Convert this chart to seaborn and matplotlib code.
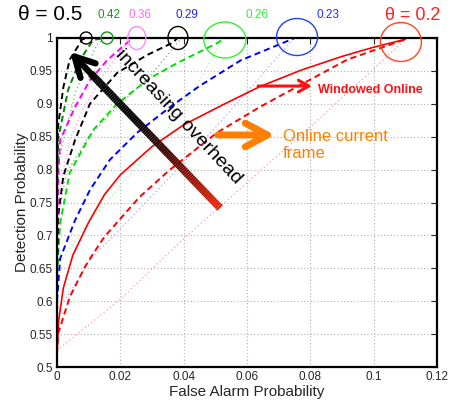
import numpy as np
import pandas as pd
import matplotlib
matplotlib.use("Agg")
import matplotlib.pyplot as plt
import seaborn as sns
from matplotlib.collections import LineCollection
from matplotlib.colors import LinearSegmentedColormap
from matplotlib.patches import Ellipse

sns.set_style("white")
plt.rcParams['font.family'] = ['Liberation Sans', 'DejaVu Sans']

# ---- ROC curves, one family per threshold theta ----
# theta = 0.2
red_solid_x = [0, 0.0005, 0.002, 0.005, 0.01, 0.015, 0.02, 0.03, 0.04, 0.053, 0.064, 0.077, 0.09, 0.1, 0.11]
red_solid_y = [0.52, 0.57, 0.62, 0.67, 0.72, 0.762, 0.792, 0.835, 0.868, 0.90, 0.926, 0.951, 0.972, 0.986, 0.998]
red_dash_x = [0, 0.0003, 0.004, 0.0088, 0.0114, 0.015, 0.026, 0.0357, 0.0505, 0.064, 0.077, 0.0916, 0.11]
red_dash_y = [0.52, 0.55, 0.606, 0.652, 0.672, 0.698, 0.758, 0.80, 0.856, 0.895, 0.929, 0.967, 0.998]
red_dot_x = [0, 0.02, 0.04, 0.06, 0.08, 0.1, 0.11]
red_dot_y = [0.525, 0.603, 0.695, 0.78, 0.865, 0.953, 0.998]
# theta = 0.23
blue_dash_x = [0, 0.001, 0.0057, 0.0104, 0.0167, 0.0253, 0.0357, 0.045, 0.058, 0.0736, 0.075]
blue_dash_y = [0.6, 0.665, 0.723, 0.769, 0.815, 0.856, 0.895, 0.927, 0.966, 0.997, 1.0]
blue_dot_x = [0.0005, 0.004, 0.0104, 0.023, 0.038, 0.053, 0.064, 0.0745]
blue_dot_y = [0.59, 0.612, 0.663, 0.725, 0.80, 0.88, 0.94, 0.998]
# theta = 0.26
green_dash_x = [0, 0.001, 0.004, 0.0114, 0.019, 0.029, 0.038, 0.0505, 0.053]
green_dash_y = [0.64, 0.719, 0.795, 0.86, 0.90, 0.938, 0.962, 0.992, 1.0]
green_dot_x = [0.001, 0.01, 0.02, 0.0325, 0.045, 0.052]
green_dot_y = [0.66, 0.72, 0.775, 0.845, 0.935, 0.997]
# theta = 0.29
black_dash_x = [0, 0.0004, 0.002, 0.0057, 0.0104, 0.019, 0.0284, 0.0366, 0.038]
black_dash_y = [0.64, 0.73, 0.79, 0.845, 0.9, 0.947, 0.974, 0.993, 1.0]
gray_dot_x = [0, 0.003, 0.01, 0.02, 0.029, 0.039]
gray_dot_y = [0.72, 0.795, 0.85, 0.9, 0.94, 0.998]
# theta = 0.36
mag_dash_x = [0, 0.0005, 0.001, 0.0057, 0.0104, 0.016, 0.022, 0.024]
mag_dash_y = [0.7, 0.8, 0.845, 0.895, 0.936, 0.967, 0.992, 1.0]
mag_dot_x = [0.0005, 0.002, 0.004, 0.008, 0.0136, 0.018, 0.023]
mag_dot_y = [0.75, 0.80, 0.845, 0.89, 0.936, 0.967, 0.998]
# theta = 0.42
dkgreen_dash_x = [0, 0.0003, 0.0035, 0.0073, 0.0114, 0.015]
dkgreen_dash_y = [0.75, 0.845, 0.921, 0.967, 0.997, 1.0]
dkgreen_dot_x = [0, 0.002, 0.006, 0.0126, 0.015]
dkgreen_dot_y = [0.8, 0.845, 0.92, 0.99, 1.0]
# theta = 0.5
top_dash_x = [0, 0.0003, 0.002, 0.004, 0.008, 0.0095]
top_dash_y = [0.8, 0.865, 0.925, 0.967, 0.998, 1.0]

# axis ticks
x_ticks = [0, 0.02, 0.04, 0.06, 0.08, 0.1, 0.12]
x_tick_labels = ["0", "0.02", "0.04", "0.06", "0.08", "0.1", "0.12"]
y_ticks = [0.5, 0.55, 0.6, 0.65, 0.7, 0.75, 0.8, 0.85, 0.9, 0.95, 1.0]
y_tick_labels = ["0.5", "0.55", "0.6", "0.65", "0.7", "0.75", "0.8", "0.85", "0.9", "0.95", "1"]

# threshold labels and operating-point markers
theta_labels = ["\u03b8 = 0.5", "0.42", "0.36", "0.29", "0.26", "0.23", "\u03b8 = 0.2"]
theta_label_colors = ["black", "#119911", "#ff66ff", "#2222ee", "#33ee33", "#2233ee", "#ff2020"]
theta_label_sizes = [15, 8.5, 8.5, 8.5, 8.5, 8.5, 13]
marker_x = [0.0092, 0.0158, 0.0252, 0.0382, 0.0530, 0.0758, 0.1086]
marker_colors = ["black", "#119911", "#ff88ff", "black", "#33ee33", "#2244ee", "#ff4422"]

DASH = (0, (3.2, 2.0))
DOT = (0, (1, 2.2))
curves = [
    (red_dot_x, red_dot_y, "#ff9a9a", DOT, 0.9),
    (blue_dot_x, blue_dot_y, "#a8a8ff", DOT, 0.9),
    (green_dot_x, green_dot_y, "#99ff99", DOT, 0.9),
    (gray_dot_x, gray_dot_y, "#9a9a9a", DOT, 0.9),
    (mag_dot_x, mag_dot_y, "#ff99ff", DOT, 0.9),
    (dkgreen_dot_x, dkgreen_dot_y, "#66bb66", DOT, 0.9),
    (red_solid_x, red_solid_y, "#ff0000", "-", 1.2),
    (red_dash_x, red_dash_y, "#ff0000", DASH, 1.4),
    (blue_dash_x, blue_dash_y, "#0000ff", DASH, 1.4),
    (green_dash_x, green_dash_y, "#00e000", DASH, 1.4),
    (black_dash_x, black_dash_y, "black", DASH, 1.4),
    (mag_dash_x, mag_dash_y, "#ff00ff", DASH, 1.4),
    (dkgreen_dash_x, dkgreen_dash_y, "#008800", DASH, 1.4),
    (top_dash_x, top_dash_y, "black", DASH, 1.4),
]

fig = plt.figure(figsize=(4.5, 4.07), dpi=100)
ax = fig.add_axes([57 / 450, 40 / 407, 380 / 450, 329 / 407])

for xs, ys, col, ls, lw in curves:
    sns.lineplot(x=xs, y=ys, ax=ax, color=col, linestyle=ls, linewidth=lw,
                 sort=False, estimator=None)

ax.set_xlim(0, 0.12)
ax.set_ylim(0.5, 1.0)
ax.set_xticks(x_ticks)
ax.set_xticklabels(x_tick_labels)
ax.set_yticks(y_ticks)
ax.set_yticklabels(y_tick_labels)
ax.grid(True, linestyle=(0, (1, 2)), color="#b0b0b0", linewidth=0.8)
ax.tick_params(direction="in", length=4, width=0.8, top=True, right=True,
               labelsize=8.5, pad=3)
for s in ax.spines.values():
    s.set_linewidth(1.6)
    s.set_color("black")
ax.set_xlabel("False Alarm Probability", fontsize=11, labelpad=1)
ax.set_ylabel("Detection Probability", fontsize=11, labelpad=0.5)

# operating-point ellipses along the top edge (sizes in pixels)
ell_w_px = [12, 12, 18, 20, 42, 41, 41]
ell_h_px = [12, 12, 23, 23, 36, 37, 39]
ell_y_px = [38, 38, 38, 38, 40, 37, 42]
for mx, col, w, h, py in zip(marker_x, marker_colors, ell_w_px, ell_h_px, ell_y_px):
    e = Ellipse((mx, 0.5 + (367 - py) / 658), w / 3167, h / 658,
                fill=False, edgecolor=col, lw=1.0, clip_on=False, zorder=5)
    ax.add_patch(e)

# threshold labels above the plot
label_px = [50, 109, 140, 187, 257, 328, 413]
for txt, col, fs, px in zip(theta_labels, theta_label_colors, theta_label_sizes, label_px):
    fig.text(px / 450, 1 - 15 / 407, txt, color=col, fontsize=fs,
             ha="center", va="center")

# gradient "increasing overhead" arrow
tail = np.array([0.0515, 0.7416])
tip = np.array([0.0041, 0.979])
t = np.linspace(0, 0.86, 90)
pts = tail + np.outer(t, tip - tail)
segs = np.stack([pts[:-1], pts[1:]], axis=1)
cmap = LinearSegmentedColormap.from_list(
    "overhead", [(0, "#ee2200"), (0.15, "#a01000"), (0.35, "#400400"), (0.55, "#000000"), (1, "#000000")])
lc = LineCollection(segs, colors=cmap(t[:-1]), linewidths=5.5, capstyle="butt", zorder=6)
ax.add_collection(lc)
ax.annotate("", xy=tuple(tip), xytext=tuple(tail + 0.84 * (tip - tail)),
            arrowprops=dict(arrowstyle="->,head_length=1.4,head_width=0.75",
                            lw=4.5, color="black", mutation_scale=10,
                            shrinkA=0, shrinkB=0), zorder=7)
ax.text(0.0385, 0.8800, "increasing overhead", rotation=-47, rotation_mode="anchor",
        ha="center", va="center", fontsize=14, color="black", zorder=7)

# method annotations
ax.annotate("", xy=(0.0805, 0.927), xytext=(0.0635, 0.927),
            arrowprops=dict(arrowstyle="->,head_length=0.75,head_width=0.42",
                            lw=2.2, color="#ff1010", mutation_scale=10,
                            shrinkA=0, shrinkB=0), zorder=7)
ax.text(0.0824, 0.921, "Windowed Online", color="#ff1010", fontsize=9,
        fontweight="bold", ha="left", va="center", zorder=7)
ax.annotate("", xy=(0.0688, 0.8526), xytext=(0.0508, 0.8526),
            arrowprops=dict(arrowstyle="->,head_length=1.6,head_width=0.85",
                            lw=5, color="#ff7f00", mutation_scale=10,
                            capstyle="round", joinstyle="round",
                            shrinkA=0, shrinkB=0), zorder=7)
ax.text(0.0714, 0.837, "Online current\nframe", color="#ff7f00", fontsize=12,
        ha="left", va="center", linespacing=1.15, zorder=7)

fig.savefig("out.png", dpi=100)
